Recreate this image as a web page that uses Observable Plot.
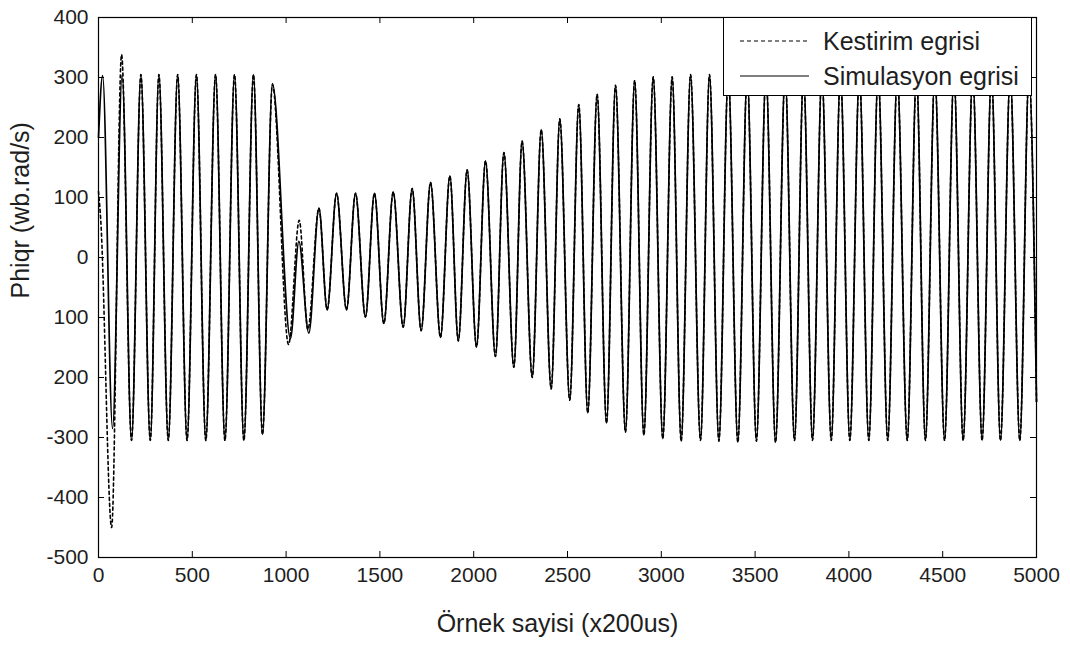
<!DOCTYPE html>
<html>
<head>
<meta charset="utf-8">
<script src="https://cdn.jsdelivr.net/npm/d3@7"></script>
<script src="https://cdn.jsdelivr.net/npm/@observablehq/plot@0.6"></script>
<style>
  body { margin: 0; background: #fff; }
  #wrap { position: relative; width: 1070px; height: 650px; font-family: "Liberation Sans", Arial, sans-serif; color: #1e1e1e; }
  #legend { position: absolute; left: 723px; top: 17px; width: 309px; height: 79px; border: 1px solid #000; background: #fff; box-sizing: border-box; }
  #legend .item { position: absolute; left: 0; height: 30px; display: flex; align-items: center; }
  #legend svg { margin-left: 16px; margin-right: 14px; }
  #legend span { font-size: 25px; line-height: 30px; }
</style>
</head>
<body>
<div id="wrap">
  <div id="chart"></div>
  <div id="legend">
    <div class="item" style="top:8px"><svg width="69" height="4"><line x1="0" y1="2" x2="69" y2="2" stroke="#000" stroke-width="1.2" stroke-dasharray="4,3"/></svg><span>Kestirim egrisi</span></div>
    <div class="item" style="top:43px"><svg width="69" height="4"><line x1="0" y1="2" x2="69" y2="2" stroke="#000" stroke-width="1.2"/></svg><span>Simulasyon egrisi</span></div>
  </div>
</div>
<script>
// Axis ticks and labels
const xTicks = [0, 500, 1000, 1500, 2000, 2500, 3000, 3500, 4000, 4500, 5000];
const yTicks = [-500, -400, -300, -200, -100, 0, 100, 200, 300, 400];
const yTickLabels = ["-500", "-400", "-300", "200", "100", "0", "100", "200", "300", "400"];
const xLabel = "Örnek sayisi (x200us)";
const yLabel = "Phiqr (wb.rad/s)";

// Simulasyon egrisi: successive extrema (sample index, value)
const simX = [0, 22, 75, 126, 176, 226, 276, 322, 372, 422, 472, 522, 572, 624, 674, 725, 775, 826, 874, 927,
  1023, 1068, 1121, 1175, 1219, 1269, 1322, 1370, 1423, 1471, 1521, 1571, 1624, 1672, 1720, 1770, 1823, 1873, 1918, 1965,
  2015, 2063, 2116, 2161, 2214, 2258, 2312, 2360, 2413, 2459, 2512, 2560, 2608, 2658, 2708, 2756, 2809, 2858, 2907, 2957,
  3008, 3058, 3106, 3156, 3209, 3257, 3307, 3357, 3408, 3458, 3507, 3558, 3609, 3660, 3710, 3758, 3806, 3856, 3906, 3955,
  4005, 4056, 4106, 4156, 4207, 4258, 4311, 4360, 4408, 4458, 4510, 4560, 4609, 4660, 4710, 4760, 4808, 4860, 4911, 4960, 5000];
const simY = [200, 303, -285, 305, -305, 305, -305, 305, -305, 305, -305, 305, -305, 305, -305, 305, -305, 305, -295, 290,
  -135, 27, -126, 82, -87, 107, -87, 107, -99, 107, -110, 109, -116, 115, -122, 125, -133, 136, -139, 146,
  -149, 161, -165, 175, -183, 194, -200, 213, -219, 231, -238, 255, -259, 272, -276, 287, -291, 295, -296, 301,
  -302, 301, -306, 305, -305, 305, -306, 305, -308, 305, -306, 305, -308, 305, -305, 305, -305, 305, -305, 305,
  -305, 305, -305, 305, -305, 305, -305, 305, -305, 305, -305, 305, -305, 305, -305, 305, -305, 305, -305, 305, -240];

// Kestirim egrisi: where it departs from the simulation curve
const kesStartX = [0, 12, 70, 123];
const kesStartY = [110, 62, -450, 338];
const kesMidX = [927, 1013, 1070, 1116];
const kesMidY = [288, -145, 62, -120];

const simulation = simX.map((x, i) => ({x, y: simY[i]}));
const kestirim = [
  ...kesStartX.map((x, i) => ({x, y: kesStartY[i]})),
  ...simulation.filter(d => d.x >= 176 && d.x <= 874),
  ...kesMidX.map((x, i) => ({x, y: kesMidY[i]})),
  ...simulation.filter(d => d.x >= 1175)
];

const W = 1070, H = 650, mT = 17, mR = 34, mB = 93, mL = 98;
const innerW = W - mL - mR, innerH = H - mT - mB, tickLen = 6;

const chart = Plot.plot({
  width: W, height: H,
  marginTop: mT, marginRight: mR, marginBottom: mB, marginLeft: mL,
  style: {fontFamily: "'Liberation Sans', Arial, sans-serif", color: "#1e1e1e", background: "#fff", overflow: "visible"},
  x: {domain: [0, 5000]},
  y: {domain: [-500, 400]},
  marks: [
    Plot.line(simulation, {x: "x", y: "y", stroke: "#000", strokeWidth: 1.7, curve: "monotone-x"}),
    Plot.line(kestirim, {x: "x", y: "y", stroke: "#000", strokeWidth: 1.6, strokeDasharray: "3,3", curve: "monotone-x"}),
    Plot.ruleX(xTicks, {x: d => d, insetTop: innerH - tickLen, stroke: "#000"}),
    Plot.ruleX(xTicks, {x: d => d, insetBottom: innerH - tickLen, stroke: "#000"}),
    Plot.ruleY(yTicks, {y: d => d, insetRight: innerW - tickLen, stroke: "#000"}),
    Plot.ruleY(yTicks, {y: d => d, insetLeft: innerW - tickLen, stroke: "#000"}),
    Plot.frame({stroke: "#000", strokeWidth: 1.2}),
    Plot.axisX(xTicks, {tickSize: 0, tickPadding: 10, fontSize: 21, label: null, tickFormat: d => String(d)}),
    Plot.axisY(yTicks, {tickSize: 0, tickPadding: 10, fontSize: 21, label: null,
      tickFormat: d => yTickLabels[yTicks.indexOf(d)]}),
    Plot.text([xLabel], {text: d => d, frameAnchor: "bottom", dy: 74, dx: -10, fontSize: 25}),
    Plot.text([yLabel], {text: d => d, frameAnchor: "left", dx: -78, dy: 11, rotate: -90, fontSize: 25})
  ]
});
document.getElementById("chart").appendChild(chart);
</script>
</body>
</html>
